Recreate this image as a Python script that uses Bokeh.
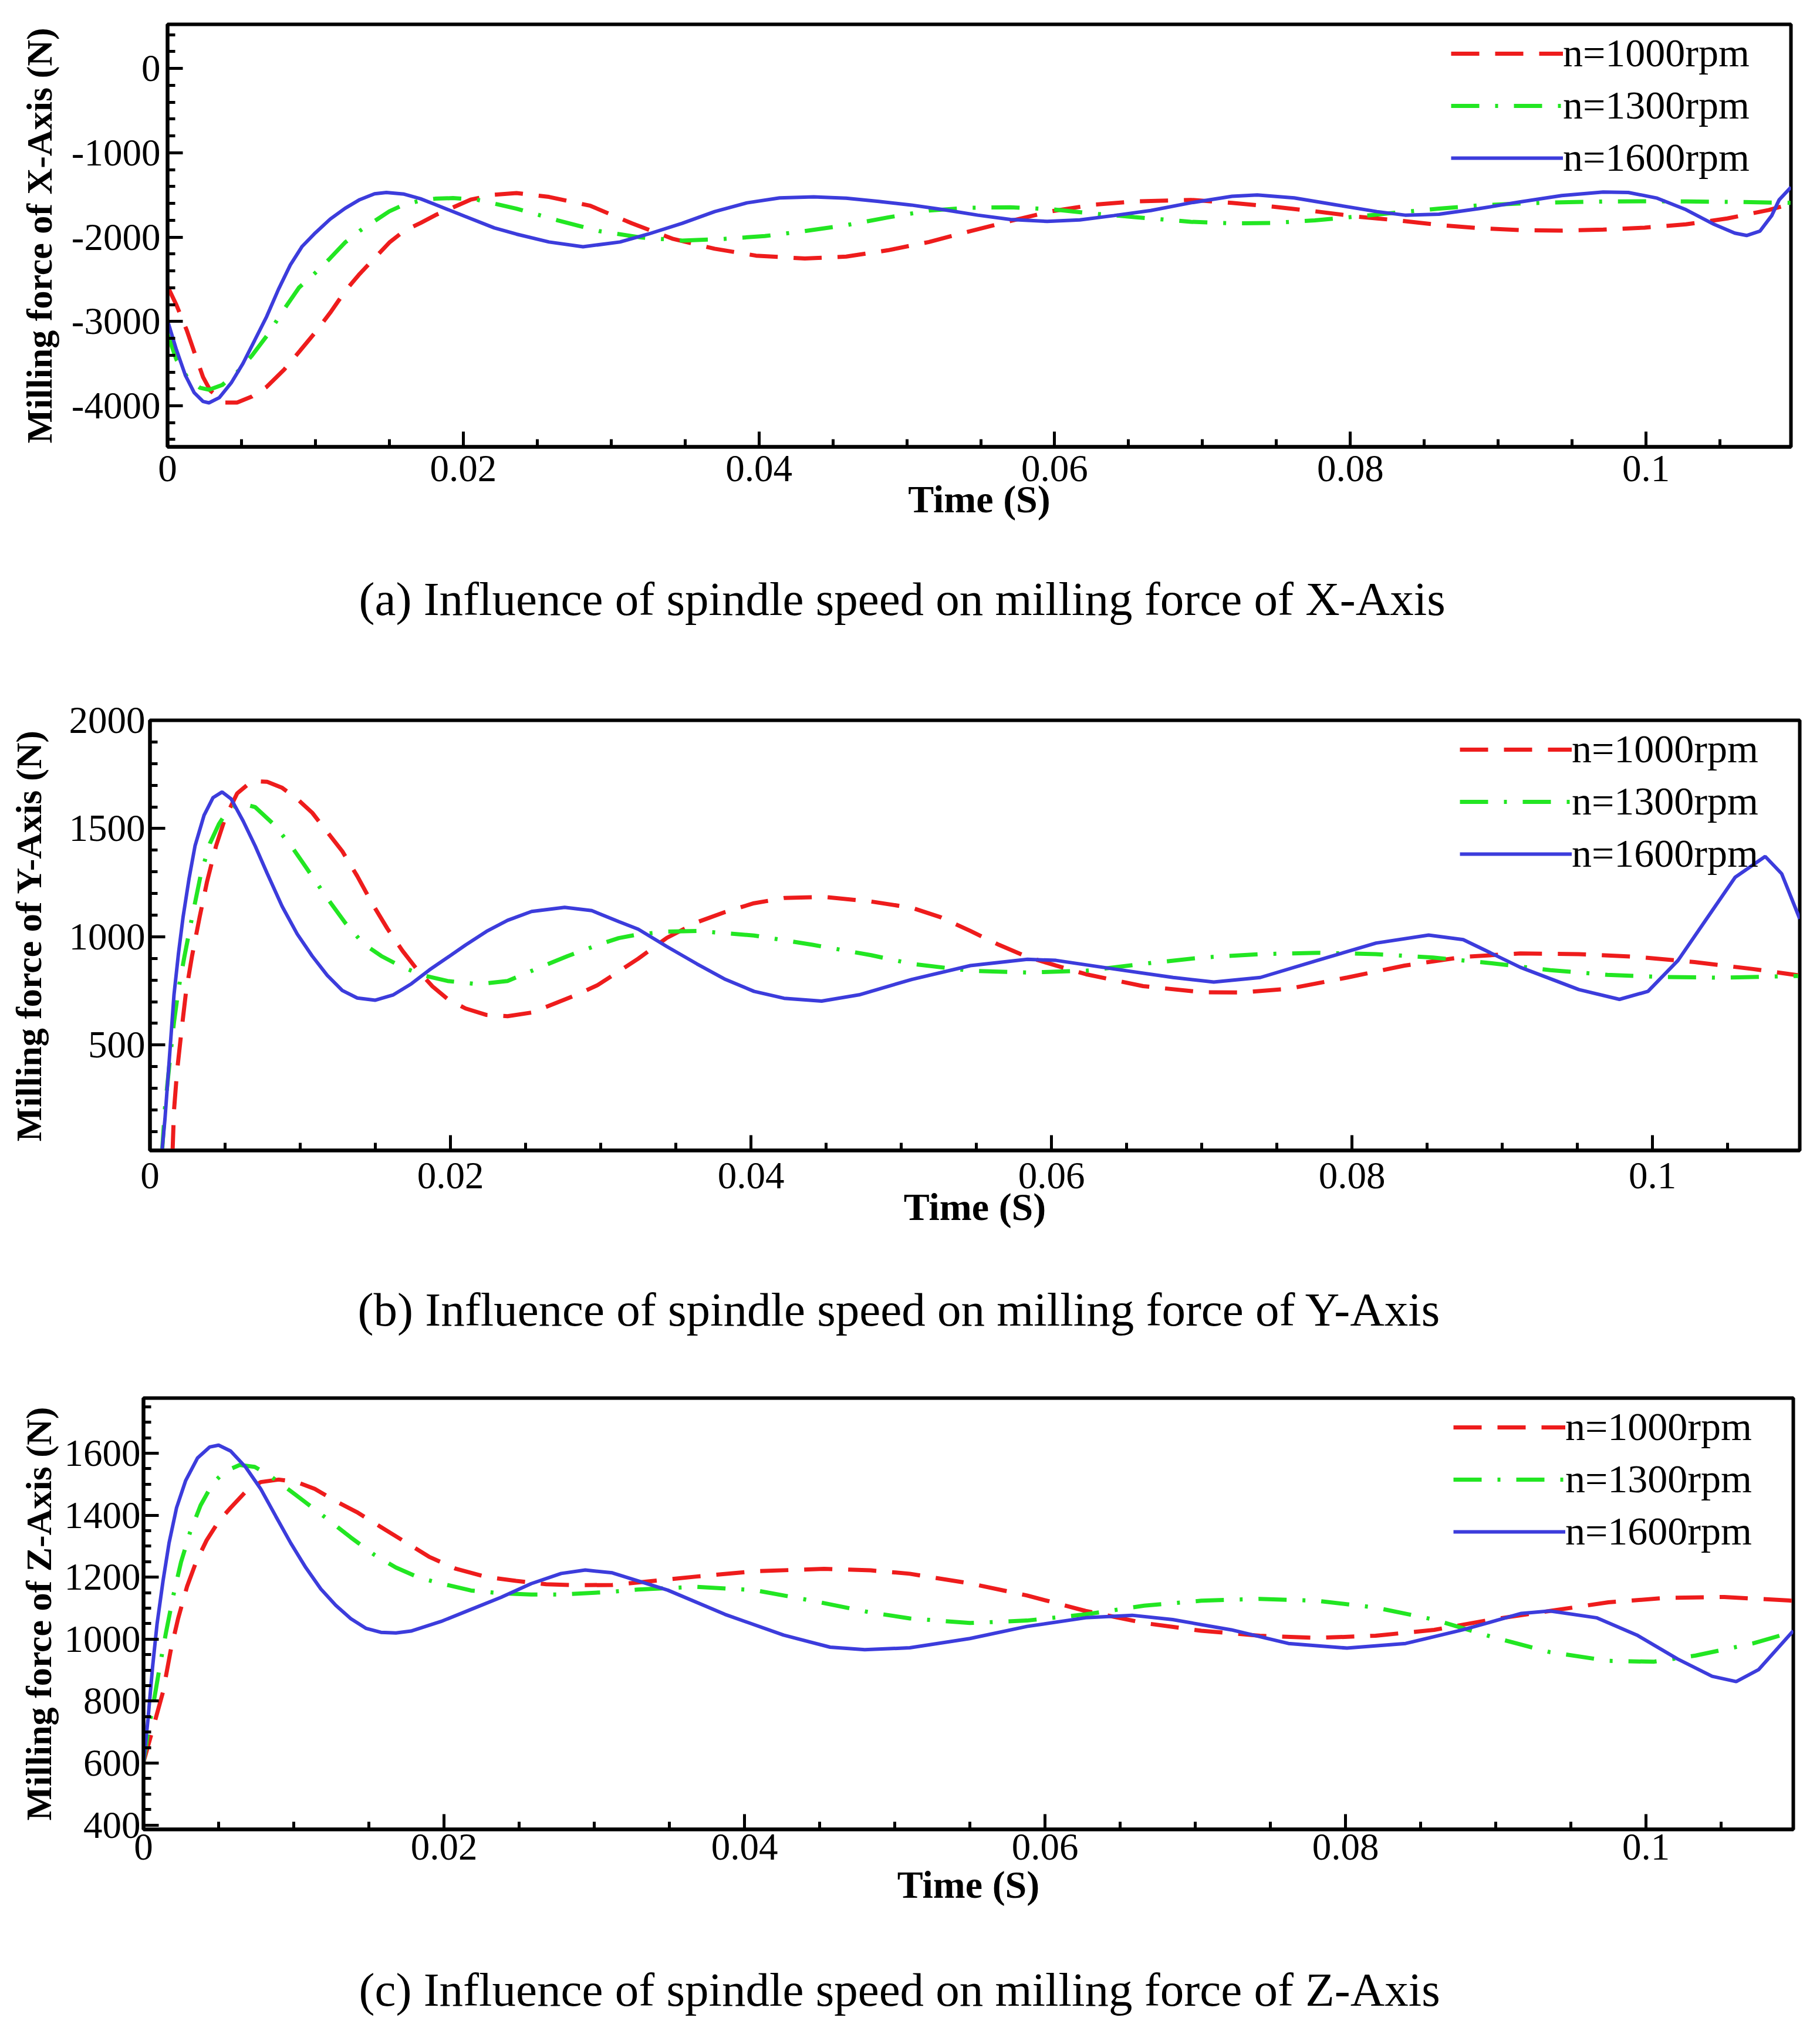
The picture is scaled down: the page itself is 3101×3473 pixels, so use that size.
from bokeh.plotting import figure
from bokeh.models import (Range1d, SingleIntervalTicker, CustomJSTickFormatter,
                          Legend, LegendItem, Title)
from bokeh.embed import file_html
from bokeh.resources import INLINE

# ---------------- data ----------------
labels = ["n=1000rpm", "n=1300rpm", "n=1600rpm"]

# (a) X-Axis
xa_t_1000 = [0, 0.0006, 0.0013, 0.0018, 0.0024, 0.0029, 0.0039, 0.0047, 0.0057, 0.0067, 0.0079, 0.0089,
             0.01, 0.011, 0.012, 0.013, 0.014, 0.015, 0.016, 0.0171, 0.0181, 0.0193, 0.0205, 0.0221,
             0.0236, 0.0258, 0.0286, 0.0314, 0.0342, 0.037, 0.0398, 0.0431, 0.0459, 0.0487, 0.0515,
             0.0543, 0.057, 0.0598, 0.0626, 0.0654, 0.0692, 0.072, 0.0748, 0.0776, 0.0804, 0.0832,
             0.086, 0.0887, 0.0915, 0.0943, 0.0971, 0.0999, 0.1027, 0.1055, 0.1083, 0.1098]
xa_f_1000 = [-2585, -2805, -3105, -3360, -3660, -3822, -3961, -3961, -3891, -3776, -3568, -3360,
             -3128, -2897, -2643, -2435, -2250, -2065, -1926, -1834, -1741, -1649, -1556, -1498,
             -1478, -1524, -1629, -1837, -2022, -2138, -2220, -2254, -2231, -2157, -2058,
             -1929, -1810, -1694, -1617, -1578, -1559, -1594, -1640, -1694, -1756, -1802,
             -1856, -1895, -1918, -1923, -1911, -1888, -1849, -1779, -1679, -1605]
xa_t_1300 = [0, 0.0006, 0.0014, 0.0022, 0.0028, 0.0037, 0.0047, 0.0057, 0.0067, 0.0079, 0.0089, 0.01,
             0.011, 0.012, 0.013, 0.014, 0.015, 0.016, 0.0171, 0.0181, 0.0193, 0.0209, 0.0236, 0.0264,
             0.0292, 0.032, 0.0348, 0.0376, 0.0404, 0.0431, 0.0459, 0.0487, 0.0515, 0.0543, 0.057,
             0.0598, 0.0626, 0.0654, 0.0692, 0.072, 0.0748, 0.0776, 0.0804, 0.0832, 0.086, 0.0887,
             0.0915, 0.0943, 0.0971, 0.0999, 0.1027, 0.1055, 0.1098]
xa_f_1300 = [-3151, -3452, -3683, -3787, -3810, -3753, -3602, -3406, -3175, -2851, -2597, -2423,
             -2250, -2065, -1926, -1810, -1695, -1614, -1568, -1545, -1538, -1556, -1663, -1802,
             -1929, -2004, -2041, -2022, -1988, -1929, -1859, -1768, -1686, -1652, -1646,
             -1670, -1721, -1763, -1819, -1837, -1832, -1802, -1756, -1709, -1663, -1624,
             -1601, -1587, -1578, -1575, -1578, -1582, -1594]
xa_t_1600 = [0, 0.0006, 0.0012, 0.0018, 0.0024, 0.0028, 0.0035, 0.0043, 0.0051, 0.0059, 0.0067, 0.0075,
             0.0083, 0.0091, 0.01, 0.011, 0.012, 0.013, 0.014, 0.0148, 0.016, 0.0171, 0.0181, 0.0191,
             0.0201, 0.0221, 0.0236, 0.0258, 0.0281, 0.0306, 0.0325, 0.0348, 0.037, 0.0392, 0.0414,
             0.0437, 0.0459, 0.0481, 0.0503, 0.0526, 0.0548, 0.057, 0.0595, 0.0617, 0.064, 0.0665,
             0.0692, 0.072, 0.0737, 0.0762, 0.079, 0.0818, 0.0837, 0.086, 0.0887, 0.0915, 0.0943,
             0.0971, 0.0988, 0.1007, 0.1027, 0.1046, 0.106, 0.1068, 0.1077, 0.1085, 0.109, 0.1098]
xa_f_1600 = [-2990, -3336, -3637, -3845, -3949, -3965, -3903, -3730, -3498, -3221, -2943, -2620,
             -2331, -2111, -1949, -1787, -1660, -1556, -1487, -1471, -1491, -1545, -1614, -1683,
             -1753, -1891, -1965, -2058, -2115, -2058, -1965, -1837, -1698, -1594, -1536,
             -1524, -1539, -1577, -1620, -1678, -1740, -1791, -1814, -1796, -1745, -1685,
             -1594, -1517, -1501, -1536, -1617, -1698, -1740, -1728, -1663, -1582, -1508,
             -1466, -1471, -1536, -1675, -1849, -1953, -1981, -1930, -1745, -1559, -1408]

# (b) Y-Axis
ya_t_1000 = [0.0015, 0.0016, 0.0018, 0.0021, 0.0024, 0.0028, 0.0033, 0.0038, 0.0044, 0.005, 0.0058,
             0.0068, 0.0078, 0.0088, 0.0098, 0.0108, 0.0118, 0.0128, 0.0138, 0.0148, 0.0158, 0.0168,
             0.0178, 0.0188, 0.0198, 0.021, 0.0224, 0.0238, 0.0254, 0.0268, 0.0284, 0.0298, 0.0312,
             0.0325, 0.0344, 0.0364, 0.0383, 0.0402, 0.0422, 0.0449, 0.048, 0.0507, 0.0526, 0.0546,
             0.0565, 0.0584, 0.0603, 0.0623, 0.0661, 0.07, 0.0727, 0.0758, 0.0797, 0.0835, 0.0874,
             0.0912, 0.0951, 0.099, 0.1028, 0.1067, 0.1097]
ya_f_1000 = [0, 197, 376, 567, 745, 911, 1089, 1255, 1420, 1548, 1662,
             1720, 1716, 1688, 1637, 1573, 1484, 1395, 1280, 1153, 1038, 936,
             847, 771, 713, 669, 639, 633, 650, 688, 732, 777, 840,
             899, 995, 1067, 1115, 1155, 1179, 1184, 1163, 1134, 1091, 1027,
             963, 907, 867, 827, 772, 744, 743, 760, 812, 867, 907,
             923, 920, 907, 883, 851, 822]
ya_t_1300 = [0.0008, 0.001, 0.0013, 0.0016, 0.0019, 0.0023, 0.0028, 0.0034, 0.004, 0.0046, 0.0052,
             0.006, 0.007, 0.0082, 0.0094, 0.0106, 0.0118, 0.013, 0.0142, 0.0154, 0.0168, 0.0182,
             0.0198, 0.0218, 0.0238, 0.0258, 0.0278, 0.0298, 0.0312, 0.0325, 0.0344, 0.0364, 0.0402,
             0.0441, 0.048, 0.0507, 0.0546, 0.0584, 0.0623, 0.0661, 0.07, 0.0739, 0.0777, 0.0816,
             0.0854, 0.0893, 0.0932, 0.097, 0.1009, 0.1047, 0.1097]
ya_f_1300 = [0, 210, 414, 605, 758, 911, 1089, 1293, 1433, 1522, 1586,
             1618, 1599, 1522, 1420, 1299, 1178, 1064, 968, 911, 860, 822,
             796, 781, 796, 854, 911, 962, 994, 1011, 1024, 1027, 1006,
             963, 915, 875, 843, 835, 843, 875, 904, 920, 926, 920,
             904, 878, 846, 824, 814, 811, 819]
ya_t_1600 = [0.0008, 0.001, 0.0012, 0.0014, 0.0016, 0.0019, 0.0022, 0.0026, 0.003, 0.0036, 0.0042,
             0.0048, 0.0054, 0.0062, 0.007, 0.0078, 0.0088, 0.0098, 0.0108, 0.0118, 0.0128, 0.0138,
             0.015, 0.0162, 0.0174, 0.0186, 0.0198, 0.021, 0.0224, 0.0238, 0.0254, 0.0276, 0.0294,
             0.0312, 0.0325, 0.0344, 0.0364, 0.0383, 0.0402, 0.0422, 0.0447, 0.0472, 0.0507, 0.0546,
             0.0584, 0.0603, 0.0642, 0.0681, 0.0708, 0.0739, 0.0777, 0.0816, 0.0851, 0.0874, 0.0912,
             0.0951, 0.0978, 0.0997, 0.1017, 0.1036, 0.1055, 0.1075, 0.1086, 0.1098]
ya_f_1600 = [9, 159, 350, 541, 732, 924, 1089, 1268, 1420, 1561, 1643,
             1669, 1637, 1535, 1420, 1293, 1140, 1013, 911, 822, 752, 717,
             707, 732, 783, 847, 904, 962, 1025, 1076, 1117, 1136, 1121,
             1070, 1035, 955, 875, 803, 748, 716, 703, 732, 803, 867,
             896, 891, 851, 812, 791, 812, 891, 971, 1008, 987, 859,
             756, 711, 748, 891, 1083, 1275, 1371, 1291, 1083]

# (c) Z-Axis
za_t_1000 = [0, 0.0004, 0.0008, 0.0013, 0.0018, 0.0023, 0.0029, 0.0035, 0.0042, 0.005, 0.0058, 0.0068,
             0.0078, 0.009, 0.0102, 0.0114, 0.0128, 0.0142, 0.0158, 0.0174, 0.019, 0.0208, 0.0228,
             0.0248, 0.0268, 0.0288, 0.0312, 0.0329, 0.0368, 0.0407, 0.0453, 0.0484, 0.051, 0.055,
             0.0588, 0.0627, 0.0666, 0.0704, 0.0743, 0.0781, 0.082, 0.0859, 0.0897, 0.0936, 0.0975,
             0.1013, 0.1052, 0.1098]
za_f_1000 = [603, 672, 742, 830, 961, 1066, 1170, 1249, 1319, 1380, 1424, 1476,
             1507, 1515, 1507, 1485, 1445, 1410, 1362, 1314, 1266, 1227, 1201,
             1188, 1177, 1174, 1175, 1183, 1202, 1219, 1227, 1222, 1211, 1180,
             1141, 1091, 1052, 1027, 1011, 1004, 1011, 1030, 1063, 1091, 1119,
             1133, 1136, 1124]
za_t_1300 = [0, 0.0003, 0.0007, 0.0011, 0.0015, 0.002, 0.0025, 0.0031, 0.0038, 0.0046, 0.0054, 0.0064,
             0.0074, 0.0084, 0.0096, 0.0108, 0.0122, 0.0138, 0.0154, 0.0168, 0.0184, 0.0202, 0.0218,
             0.0238, 0.0258, 0.0278, 0.0312, 0.0329, 0.0368, 0.0407, 0.0445, 0.0484, 0.051, 0.055,
             0.0588, 0.0627, 0.0666, 0.0704, 0.0743, 0.0781, 0.082, 0.0859, 0.0897, 0.0936, 0.0975,
             0.1005, 0.1033, 0.1071, 0.1098]
za_f_1300 = [603, 699, 803, 917, 1022, 1144, 1249, 1345, 1432, 1502, 1541, 1562,
             1556, 1528, 1485, 1441, 1389, 1328, 1271, 1231, 1197, 1175, 1157,
             1148, 1144, 1144, 1153, 1160, 1169, 1158, 1124, 1086, 1067, 1052,
             1060, 1080, 1108, 1124, 1130, 1124, 1102, 1063, 1008, 958, 930,
             927, 947, 986, 1024]
za_t_1600 = [0, 0.0003, 0.0006, 0.0009, 0.0013, 0.0017, 0.0022, 0.0028, 0.0036, 0.0044, 0.005, 0.0058,
             0.0068, 0.0078, 0.0088, 0.0098, 0.0108, 0.0118, 0.0128, 0.0138, 0.0148, 0.0158, 0.0168,
             0.0178, 0.0198, 0.0218, 0.0238, 0.0258, 0.0278, 0.0294, 0.0312, 0.0349, 0.0387, 0.0426,
             0.0457, 0.048, 0.051, 0.055, 0.0588, 0.0627, 0.0658, 0.0685, 0.0724, 0.0762, 0.0801,
             0.084, 0.0878, 0.0917, 0.0936, 0.0967, 0.0994, 0.1021, 0.1044, 0.106, 0.1075, 0.1098]
za_f_1600 = [598, 742, 908, 1048, 1188, 1310, 1424, 1511, 1585, 1620, 1626, 1607,
             1555, 1485, 1397, 1310, 1231, 1162, 1109, 1066, 1035, 1022, 1020,
             1026, 1057, 1096, 1135, 1179, 1212, 1223, 1214, 1158, 1080, 1013,
             974, 966, 972, 1002, 1041, 1069, 1077, 1063, 1030, 986, 971,
             986, 1030, 1083, 1091, 1069, 1013, 936, 880, 863, 902, 1027]

captions = ["(a) Influence of spindle speed on milling force of X-Axis",
            "(b) Influence of spindle speed on milling force of Y-Axis",
            "(c) Influence of spindle speed on milling force of Z-Axis"]
ylabels = ["Milling force of X-Axis (N)", "Milling force of Y-Axis (N)", "Milling force of Z-Axis (N)"]
xlabel = "Time (S)"

# ---------------- styling ----------------
SERIF = "Liberation Serif"
COLORS = ["#ee1c1c", "#22e622", "#3c3cdc"]
DASHES = ["48 27", "48 27 5 27", "solid"]
WIDTHS = [7, 7, 6]

W = 3101

panels = [
    dict(series=[(xa_t_1000, xa_f_1000), (xa_t_1300, xa_f_1300), (xa_t_1600, xa_f_1600)],
         y0=-4487, y1=522, yint=1000, yminor=5, H=1150, L=285, R=50, T=41, B=389,
         ylab_standoff=18, ytick_standoff=12, xtick_standoff=15, xlab_standoff=-9,
         gap=71, cap_dx=326),
    dict(series=[(ya_t_1000, ya_f_1000), (ya_t_1300, ya_f_1300), (ya_t_1600, ya_f_1600)],
         y0=13, y1=2000, yint=500, yminor=5, H=1160, L=255, R=35, T=77, B=350,
         ylab_standoff=32, ytick_standoff=8, xtick_standoff=21, xlab_standoff=-8,
         gap=76, cap_dx=354),
    dict(series=[(za_t_1000, za_f_1000), (za_t_1300, za_f_1300), (za_t_1600, za_f_1600)],
         y0=386, y1=1778, yint=200, yminor=4, H=1163, L=244, R=46, T=72, B=356,
         ylab_standoff=7, ytick_standoff=5, xtick_standoff=8, xlab_standoff=3,
         gap=80, cap_dx=367),
]

figs = []
for i, cfg in enumerate(panels):
    p = figure(width=W, height=cfg["H"], output_backend="svg", toolbar_location=None, title=None,
               x_range=Range1d(0, 0.1098), y_range=Range1d(cfg["y0"], cfg["y1"]))
    p.min_border = 0
    p.min_border_left = cfg["L"]
    p.min_border_right = cfg["R"]
    p.min_border_top = cfg["T"]
    p.min_border_bottom = cfg["B"]
    p.background_fill_color = "white"
    p.border_fill_color = "white"
    p.outline_line_color = "black"
    p.outline_line_width = 6
    p.xgrid.visible = False
    p.ygrid.visible = False

    p.xaxis.ticker = SingleIntervalTicker(interval=0.02, num_minor_ticks=4)
    p.yaxis.ticker = SingleIntervalTicker(interval=cfg["yint"], num_minor_ticks=cfg["yminor"])
    p.xaxis.formatter = CustomJSTickFormatter(code="return String(Math.round(tick*1000)/1000);")
    p.yaxis.formatter = CustomJSTickFormatter(code="return tick.toFixed(0);")

    for ax in (p.xaxis[0], p.yaxis[0]):
        ax.axis_line_width = 6
        ax.axis_line_color = "black"
        ax.major_tick_in = 26
        ax.major_tick_out = 0
        ax.minor_tick_in = 13
        ax.minor_tick_out = 0
        ax.major_tick_line_width = 5
        ax.minor_tick_line_width = 5
        ax.major_label_text_font = SERIF
        ax.major_label_text_font_size = "65px"
        ax.major_label_text_color = "black"
        ax.axis_label_text_font = SERIF
        ax.axis_label_text_font_style = "bold"
        ax.axis_label_text_color = "black"

    p.xaxis.axis_label = xlabel
    p.xaxis.axis_label_text_font_size = "66px"
    p.xaxis.major_label_standoff = cfg["xtick_standoff"]
    p.xaxis.axis_label_standoff = cfg["xlab_standoff"]
    p.yaxis.axis_label = ylabels[i]
    p.yaxis.axis_label_text_font_size = "62px"
    p.yaxis.major_label_standoff = cfg["ytick_standoff"]
    p.yaxis.axis_label_standoff = cfg["ylab_standoff"]

    items = []
    for k, (tt, ff) in enumerate(cfg["series"]):
        r = p.line(tt, ff, line_color=COLORS[k], line_width=WIDTHS[k], line_dash=DASHES[k])
        items.append(LegendItem(label=labels[k], renderers=[r]))

    leg = Legend(items=items, location="top_right", margin=10, padding=0,
                 glyph_width=191, glyph_height=78, label_height=78, label_width=378,
                 label_standoff=0, spacing=10,
                 label_text_font=SERIF, label_text_font_size="68px", label_text_color="black",
                 border_line_alpha=0, background_fill_alpha=0)
    p.add_layout(leg)

    # blank (white) spacer between the axis title and the caption
    spacer = Title(text=" ", text_font=SERIF, text_font_size="10px", text_color="white",
                   standoff=cfg["gap"])
    p.add_layout(spacer, "below")
    cap = Title(text=captions[i], align="left", text_font=SERIF, text_font_size="81px",
                text_font_style="normal", text_color="black", vertical_align="bottom",
                standoff=0, offset=cfg["cap_dx"])
    p.add_layout(cap, "below")
    figs.append(p)

open("out.html", "w").write(file_html(figs, INLINE))
